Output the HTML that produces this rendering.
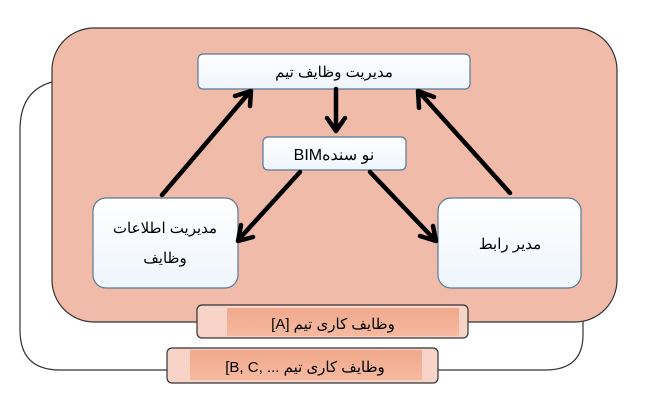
<!DOCTYPE html>
<html><head><meta charset="utf-8"><style>
html,body{margin:0;padding:0;background:#fff}
svg text{font-family:"Liberation Sans","Noto Sans CJK SC",sans-serif;fill:#000}
</style></head><body>
<svg width="656" height="410" viewBox="0 0 656 410" xmlns="http://www.w3.org/2000/svg">
<defs>
<linearGradient id="wb" x1="0" y1="0" x2="0" y2="1"><stop offset="0" stop-color="#ffffff"/><stop offset="1" stop-color="#eef5fc"/></linearGradient>
<linearGradient id="sal" x1="0" y1="0" x2="0" y2="1"><stop offset="0" stop-color="#f0a98c"/><stop offset="1" stop-color="#f6b9a0"/></linearGradient>
</defs>
<path d="M52,82 C30,88 20,105 20,130 L20,330 Q20,370 60,370 L167,370 M438,370 L545,370 Q583,370 583,335 L583,320" fill="none" stroke="#333" stroke-width="1.2"/>
<rect x="52" y="28" width="565" height="294" rx="42" fill="#f0bca9" stroke="#333" stroke-width="1.2"/>
<rect x="198" y="54" width="272" height="35" rx="5" fill="url(#wb)" stroke="#5a7896" stroke-width="1.2"/>
<text x="334" y="77" font-size="15" text-anchor="middle" direction="rtl">مديريت وظايف تيم</text>
<rect x="263" y="137" width="143" height="33" rx="5" fill="url(#wb)" stroke="#5a7896" stroke-width="1.2"/>
<text x="334" y="160" font-size="16" text-anchor="middle" direction="rtl" unicode-bidi="embed">نو سنده‏BIM</text>
<rect x="93" y="198" width="145" height="90" rx="13" fill="url(#wb)" stroke="#5a7896" stroke-width="1.2"/>
<text x="165" y="233" font-size="15" text-anchor="middle" direction="rtl">مديريت اطلاعات</text>
<text x="165" y="263" font-size="15" text-anchor="middle" direction="rtl">وظايف</text>
<rect x="438" y="198" width="143" height="90" rx="13" fill="url(#wb)" stroke="#5a7896" stroke-width="1.2"/>
<text x="510" y="249" font-size="15" text-anchor="middle" direction="rtl">مدير رابط</text>
<g stroke="#000" stroke-width="4.5" fill="none" stroke-linecap="round" stroke-linejoin="round">
<line x1="336" y1="89" x2="336" y2="130"/><polyline points="327,118 336,131 345,118"/>
<line x1="300" y1="172" x2="240" y2="238"/><polyline points="241,225 238,241 253,237"/>
<line x1="370" y1="172" x2="434" y2="239"/><polyline points="420,236 436,241 433,226"/>
<line x1="162" y1="195" x2="248" y2="94"/><polyline points="235,96 251,91 250,106"/>
<line x1="510" y1="193" x2="421" y2="94"/><polyline points="419,108 418,91 434,97"/>
</g>
<rect x="197" y="305" width="271" height="33" rx="5" fill="#f7d3c8" stroke="#333" stroke-width="1.2"/>
<rect x="227" y="308" width="232" height="28" fill="url(#sal)"/>
<text x="333" y="329" font-size="15" text-anchor="middle" direction="rtl" unicode-bidi="embed">وظايف كاری تيم [A]</text>
<rect x="167" y="348" width="271" height="35" rx="5" fill="#f7d3c8" stroke="#333" stroke-width="1.2"/>
<rect x="190" y="350" width="232" height="30" fill="url(#sal)"/>
<text x="305" y="372" font-size="15" text-anchor="middle" direction="rtl" unicode-bidi="embed">وظايف كاری تيم &#x202A;[B, C, ...&#x202C;</text>
</svg>
</body></html>
